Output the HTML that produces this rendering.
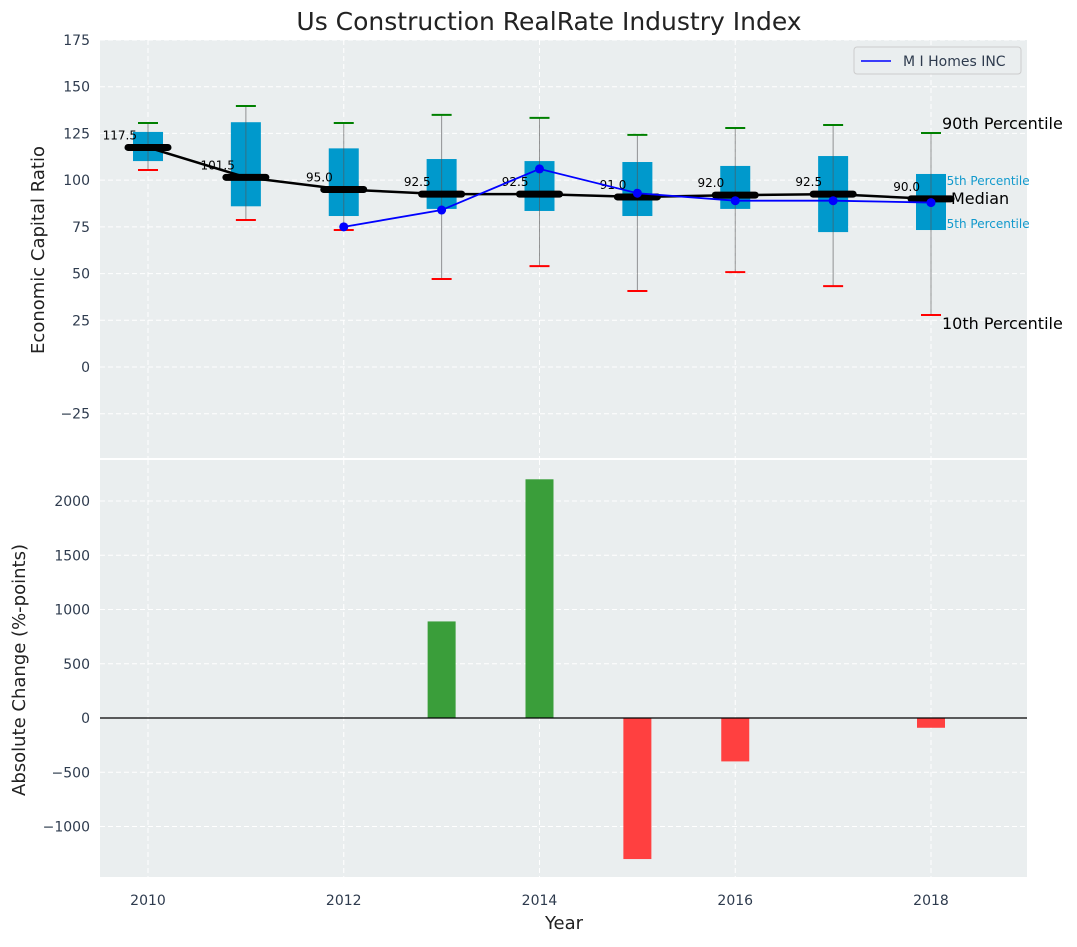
<!DOCTYPE html>
<html><head><meta charset="utf-8"><style>
body{margin:0;background:#fff;}
svg text{font-family:"DejaVu Sans","Liberation Sans",sans-serif;}
</style></head><body>
<svg id="c" width="1077" height="942" xmlns="http://www.w3.org/2000/svg"></svg>
<script>
const years=[2010,2011,2012,2013,2014,2015,2016,2017,2018];
const medians=[117.5,101.5,95.0,92.5,92.5,91.0,92.0,92.5,90.0];
const q1=[110.2,86,80.8,84.6,83.5,80.8,84.6,72.2,73.3];
const q3=[125.8,131,117,111.3,110.2,109.7,107.6,112.9,103.3];
const p10=[105.4,78.7,73.3,47.1,54,40.7,50.8,43.3,27.8];
const p90=[130.6,139.7,130.6,134.9,133.3,124.2,127.9,129.5,125.2];
const companyYears=[2012,2013,2014,2015,2016,2017,2018];
const companyVals=[75,84,106,93,89,89,88];
const changeYears=[2010,2011,2012,2013,2014,2015,2016,2017,2018];
const changeVals=[0,0,0,890,2200,-1300,-400,0,-90];
const topTicks=[-25,0,25,50,75,100,125,150,175];
const botTicks=[-1000,-500,0,500,1000,1500,2000];
const xTicks=[2010,2012,2014,2016,2018];

const NS="http://www.w3.org/2000/svg";
const svg=document.getElementById('c');
function el(t,a,p){const e=document.createElementNS(NS,t);for(const k in a)e.setAttribute(k,a[k]);(p||svg).appendChild(e);return e;}
const X=v=>148+(v-2010)*97.875;
const YT=v=>367-v*1.8686;
const YB=v=>718-v*0.1085;
const L=100,R=1027;

let e=el('rect',{x:L,y:40,width:R-L,height:418,fill:'#eaeeef'});

e=el('rect',{x:L,y:460,width:R-L,height:417,fill:'#eaeeef'});


topTicks.forEach(t=>{const y=YT(t);
 el('line',{x1:L,x2:R,y1:y,y2:y,stroke:'#fff','stroke-dasharray':'5,3','stroke-width':1});
 const tx=el('text',{x:L-10,y:y+5,'text-anchor':'end','font-size':14,fill:'#2e3b4e'});tx.textContent=t<0?'\u2212'+(-t):t;
 
});
botTicks.forEach(t=>{const y=YB(t);
 el('line',{x1:L,x2:R,y1:y,y2:y,stroke:'#fff','stroke-dasharray':'5,3','stroke-width':1});
 const tx=el('text',{x:L-10,y:y+5,'text-anchor':'end','font-size':14,fill:'#2e3b4e'});tx.textContent=t<0?'\u2212'+(-t):t;
 
});
xTicks.forEach(t=>{const x=X(t);
 el('line',{x1:x,x2:x,y1:40,y2:458,stroke:'#fff','stroke-dasharray':'5,3'});
 el('line',{x1:x,x2:x,y1:460,y2:877,stroke:'#fff','stroke-dasharray':'5,3'});
 const tx=el('text',{x:x,y:905,'text-anchor':'middle','font-size':14,fill:'#2e3b4e'});tx.textContent=t;
 
});

const lx=X(2018);const last=years.length-1;
function ann(txt,x,y,sz,col,name){const t=el('text',{x:x,y:y,'font-size':sz,fill:col});t.textContent=txt;return t;}
ann('75th Percentile',lx+8,YT(q3[last])+11,12,'#1199cc','p75-annotation');
ann('25th Percentile',lx+8,YT(q1[last])-2,12,'#1199cc','p25-annotation');

years.forEach((yr,i)=>{const x=X(yr);
 const b=el('rect',{x:x-15,y:YT(q3[i]),width:30,height:YT(q1[i])-YT(q3[i]),fill:'#0099cc'});
 
 const w=el('line',{x1:x,x2:x,y1:YT(p10[i]),y2:YT(p90[i]),stroke:'#555','stroke-width':1,opacity:0.6});
 
 const g=el('line',{x1:x-10,x2:x+10,y1:YT(p90[i]),y2:YT(p90[i]),stroke:'green','stroke-width':2});
 
 const r=el('line',{x1:x-10,x2:x+10,y1:YT(p10[i]),y2:YT(p10[i]),stroke:'red','stroke-width':2});
 
});
el('polyline',{points:years.map((y,i)=>X(y)+','+YT(medians[i])).join(' '),fill:'none',stroke:'#000','stroke-width':2.5});
years.forEach((yr,i)=>{const x=X(yr),y=YT(medians[i]);
 const m=el('line',{x1:x-20,x2:x+20,y1:y,y2:y,stroke:'#000','stroke-width':7,'stroke-linecap':'round'});
 
 const tx=el('text',{x:x-11,y:y-8,'text-anchor':'end','font-size':12,fill:'#000'});tx.textContent=medians[i].toFixed(1);
 
});
el('polyline',{points:companyYears.map((y,i)=>X(y)+','+YT(companyVals[i])).join(' '),fill:'none',stroke:'blue','stroke-width':1.8});
companyYears.forEach((yr,i)=>{const c=el('circle',{cx:X(yr),cy:YT(companyVals[i]),r:4.5,fill:'blue'});
 });

ann('90th Percentile',lx+11,YT(p90[last])-4,16,'#000','p90-annotation');
ann('Median',lx+20,YT(medians[last])+5,16,'#000','median-annotation');
ann('10th Percentile',lx+11,YT(p10[last])+14,16,'#000','p10-annotation');

const lg=el('g',{});
el('rect',{x:854,y:47,width:167,height:27,rx:3,fill:'#eaeeef',stroke:'#ccc'},lg);
el('line',{x1:861,x2:891,y1:61,y2:61,stroke:'blue','stroke-width':1.6},lg);
let lt=el('text',{x:903,y:66,'font-size':14,fill:'#2e3b4e'},lg);lt.textContent='M I Homes INC';

changeYears.forEach((yr,i)=>{const v=changeVals[i];if(v===0)return;
 const y0=YB(0),y1=YB(v);
 const b=el('rect',{x:X(yr)-14,y:Math.min(y0,y1),width:28,height:Math.abs(y1-y0),fill:v>0?'#3a9e3a':'#ff4040'});
 });
el('line',{x1:L,x2:R,y1:YB(0),y2:YB(0),stroke:'#000','stroke-width':1.2});

let tt=ann('Us Construction RealRate Industry Index',549,30,25,'#222','chart-title');tt.setAttribute('text-anchor','middle');
tt=ann('Year',564,929,18,'#222','x-axis-title');tt.setAttribute('text-anchor','middle');
let a=el('text',{x:0,y:0,'font-size':18,fill:'#222','text-anchor':'middle',transform:'translate(44,250) rotate(-90)'});a.textContent='Economic Capital Ratio';

a=el('text',{x:0,y:0,'font-size':18,fill:'#222','text-anchor':'middle',transform:'translate(25,670) rotate(-90)'});a.textContent='Absolute Change (%-points)';

</script>
</body></html>
